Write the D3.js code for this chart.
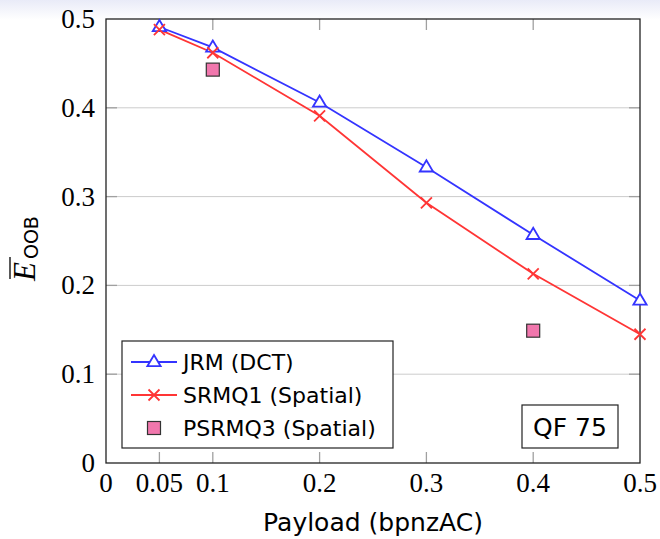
<!DOCTYPE html>
<html>
<head>
<meta charset="utf-8">
<script src="https://cdn.jsdelivr.net/npm/d3@7"></script>
<style>
  body { margin: 0; background: #fff; }
  svg { display: block; }
</style>
</head>
<body>
<div id="chart"></div>
<script>
// payload values (bpnzAC)
const payloads = [0.05, 0.1, 0.2, 0.3, 0.4, 0.5];
const jrmValues = [0.491, 0.468, 0.406, 0.333, 0.257, 0.183];
const srmqValues = [0.488, 0.462, 0.391, 0.293, 0.213, 0.145];
const psrmqPayloads = [0.1, 0.4];
const psrmqValues = [0.443, 0.149];
const xTicks = [0, 0.05, 0.1, 0.2, 0.3, 0.4, 0.5];
const yTicks = [0, 0.1, 0.2, 0.3, 0.4, 0.5];
const legendLabels = ['JRM (DCT)', 'SRMQ1 (Spatial)', 'PSRMQ3 (Spatial)'];

const width = 660, height = 539;
const margin = { top: 19, right: 20, bottom: 76, left: 106 };
const serif = '"Liberation Serif", "DejaVu Serif", serif';
const sans = '"DejaVu Sans", "Liberation Sans", sans-serif';

const blue = '#3434ff', red = '#ff3535', pink = '#f177ad';

const svg = d3.select('#chart')
  .append('svg')
  .attr('width', width)
  .attr('height', height);

// beamer-ish header shade
const grad = svg.append('defs').append('linearGradient')
  .attr('id', 'top-shade').attr('x1', 0).attr('x2', 0).attr('y1', 0).attr('y2', 1);
grad.append('stop').attr('offset', '0%').attr('stop-color', '#e9ebf8');
grad.append('stop').attr('offset', '100%').attr('stop-color', '#ffffff');
svg.append('rect').attr('x', 0).attr('y', 0).attr('width', width).attr('height', 20)
  .attr('fill', 'url(#top-shade)');

const x = d3.scaleLinear().domain([0, 0.5]).range([margin.left, width - margin.right]);
const y = d3.scaleLinear().domain([0, 0.5]).range([height - margin.bottom, margin.top]);

const plot = svg.append('g');

// horizontal grid
plot.selectAll('.grid')
  .data(yTicks.filter(d => d > 0 && d < 0.5))
  .join('line')
  .attr('x1', x(0)).attr('x2', x(0.5))
  .attr('y1', d => y(d)).attr('y2', d => y(d))
  .attr('stroke', '#cccccc').attr('stroke-width', 1);

// inward tick marks on all four sides
const tickLen = 11;
const tickColor = '#a0a0a0';
const xt = xTicks.filter(d => d > 0 && d < 0.5);
plot.selectAll('.xtb').data(xt).join('line')
  .attr('x1', d => x(d)).attr('x2', d => x(d))
  .attr('y1', y(0)).attr('y2', y(0) - tickLen)
  .attr('stroke', tickColor).attr('stroke-width', 1.3);
plot.selectAll('.xtt').data(xt).join('line')
  .attr('x1', d => x(d)).attr('x2', d => x(d))
  .attr('y1', y(0.5)).attr('y2', y(0.5) + tickLen)
  .attr('stroke', tickColor).attr('stroke-width', 1.3);
const yt = yTicks.filter(d => d > 0 && d < 0.5);
plot.selectAll('.ytl').data(yt).join('line')
  .attr('x1', x(0)).attr('x2', x(0) + tickLen)
  .attr('y1', d => y(d)).attr('y2', d => y(d))
  .attr('stroke', tickColor).attr('stroke-width', 1.3);
plot.selectAll('.ytr').data(yt).join('line')
  .attr('x1', x(0.5)).attr('x2', x(0.5) - tickLen)
  .attr('y1', d => y(d)).attr('y2', d => y(d))
  .attr('stroke', tickColor).attr('stroke-width', 1.3);

// frame
plot.append('rect')
  .attr('x', x(0)).attr('y', y(0.5))
  .attr('width', x(0.5) - x(0)).attr('height', y(0) - y(0.5))
  .attr('fill', 'none').attr('stroke', '#222').attr('stroke-width', 1.3);

// tick labels
svg.selectAll('.xl').data(xTicks).join('text')
  .attr('x', d => x(d)).attr('y', y(0) + 29)
  .attr('text-anchor', 'middle')
  .attr('font-family', serif).attr('font-size', 27)
  .text(d => d === 0 ? '0' : d3.format('')(d));
svg.selectAll('.yl').data(yTicks).join('text')
  .attr('x', x(0) - 11).attr('y', d => y(d) + 9)
  .attr('text-anchor', 'end')
  .attr('font-family', serif).attr('font-size', 27)
  .text(d => d === 0 ? '0' : d3.format('')(d));

// axis labels
svg.append('text')
  .attr('x', (x(0) + x(0.5)) / 2).attr('y', 531)
  .attr('text-anchor', 'middle')
  .attr('font-family', sans).attr('font-size', 25)
  .text('Payload (bpnzAC)');

const ylab = svg.append('g').attr('transform', 'translate(35,281) rotate(-90)');
const ytext = ylab.append('text').attr('text-anchor', 'start');
ytext.append('tspan').attr('font-family', serif).attr('font-style', 'italic').attr('font-size', 31).text('E');
ytext.append('tspan').attr('font-family', sans).attr('font-size', 19).attr('dx', 3).attr('dy', 3).text('OOB');
ylab.append('line').attr('x1', 2).attr('x2', 24).attr('y1', -25).attr('y2', -25)
  .attr('stroke', '#000').attr('stroke-width', 1.3);

// series
const line = d3.line().x(d => x(d[0])).y(d => y(d[1]));
const jrm = payloads.map((p, i) => [p, jrmValues[i]]);
const srmq = payloads.map((p, i) => [p, srmqValues[i]]);
const psrmq = psrmqPayloads.map((p, i) => [p, psrmqValues[i]]);

function triangle(g, cx, cy) {
  const r = 7;
  g.append('path')
    .attr('d', `M${cx},${cy - r}L${cx + r * 0.95},${cy + r * 0.6}L${cx - r * 0.95},${cy + r * 0.6}Z`)
    .attr('fill', '#fff').attr('stroke', blue).attr('stroke-width', 1.8);
}
function cross(g, cx, cy) {
  const r = 5.5;
  g.append('path')
    .attr('d', `M${cx - r},${cy - r}L${cx + r},${cy + r}M${cx - r},${cy + r}L${cx + r},${cy - r}`)
    .attr('stroke', red).attr('stroke-width', 1.8).attr('fill', 'none');
}
function square(g, cx, cy) {
  const r = 6.5;
  g.append('rect').attr('x', cx - r).attr('y', cy - r).attr('width', 2 * r).attr('height', 2 * r)
    .attr('fill', pink).attr('stroke', '#333').attr('stroke-width', 1.2);
}

plot.append('path').datum(jrm).attr('d', line)
  .attr('fill', 'none').attr('stroke', blue).attr('stroke-width', 1.8);
plot.append('path').datum(srmq).attr('d', line)
  .attr('fill', 'none').attr('stroke', red).attr('stroke-width', 1.8);
const marks = plot.append('g');
jrm.forEach(d => triangle(marks, x(d[0]), y(d[1])));
srmq.forEach(d => cross(marks, x(d[0]), y(d[1])));
psrmq.forEach(d => square(marks, x(d[0]), y(d[1])));

// legend
const lg = svg.append('g').attr('transform', 'translate(122,341)');
lg.append('rect').attr('width', 271).attr('height', 107)
  .attr('fill', '#fff').attr('stroke', '#222').attr('stroke-width', 1.2);
const rows = [21, 54, 87];
lg.append('line').attr('x1', 9).attr('x2', 55).attr('y1', rows[0]).attr('y2', rows[0])
  .attr('stroke', blue).attr('stroke-width', 1.8);
triangle(lg, 32, rows[0]);
lg.append('line').attr('x1', 9).attr('x2', 55).attr('y1', rows[1]).attr('y2', rows[1])
  .attr('stroke', red).attr('stroke-width', 1.8);
cross(lg, 32, rows[1]);
square(lg, 32, rows[2]);
lg.selectAll('.lt').data(legendLabels).join('text')
  .attr('x', 61).attr('y', (d, i) => rows[i] + 8)
  .attr('font-family', sans).attr('font-size', 22)
  .text(d => d);

// QF label box
const qf = svg.append('g').attr('transform', 'translate(522,405)');
qf.append('rect').attr('width', 96).attr('height', 43)
  .attr('fill', '#fff').attr('stroke', '#222').attr('stroke-width', 1.2);
qf.append('text').attr('x', 48).attr('y', 31).attr('text-anchor', 'middle')
  .attr('font-family', sans).attr('font-size', 25).text('QF 75');
</script>
</body>
</html>
